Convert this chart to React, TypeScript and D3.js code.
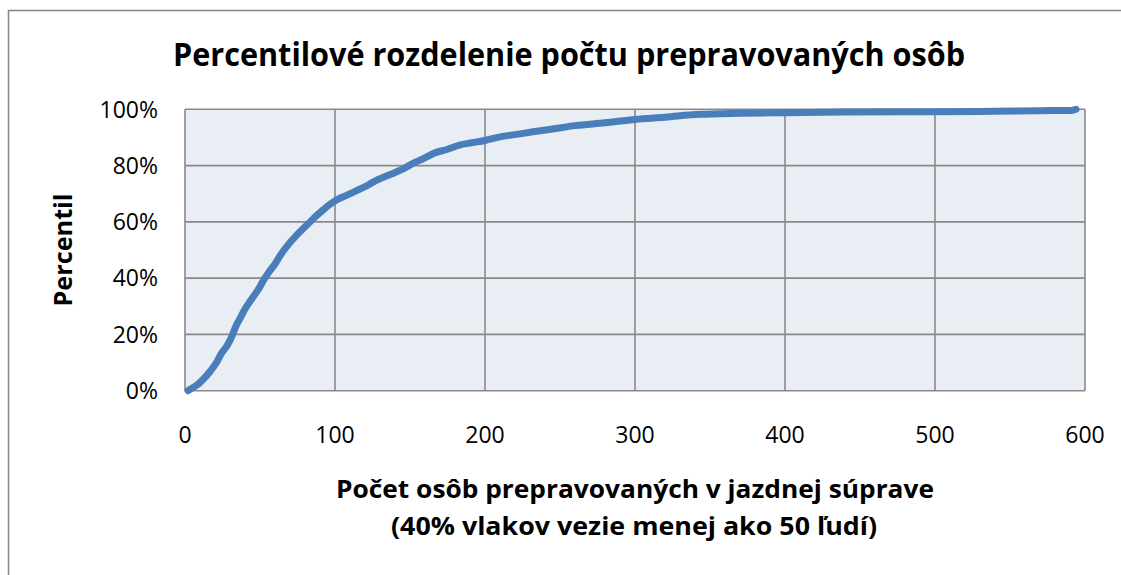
import React from "react";
import * as d3 from "d3";

const xValues = [2, 5, 8, 12, 17, 21, 24, 28, 31, 34, 37, 40, 43, 47, 50, 53, 56, 60, 64, 69, 74, 79, 84, 88, 92, 96, 101, 108, 114, 120, 126, 133, 139, 146, 152, 159, 166, 175, 183, 191, 200, 210, 220, 232, 245, 260, 280, 300, 320, 343, 370, 400, 440, 481, 500, 540, 570, 591, 594];
const yValues = [0, 1, 2, 4, 7, 10, 13, 16, 19, 23, 26, 29, 31.5, 34.5, 37, 39.8, 42.2, 45, 48.5, 52, 55, 57.7, 60.3, 62.4, 64.2, 66, 67.8, 69.5, 71, 72.5, 74.3, 76, 77.3, 79, 80.8, 82.5, 84.4, 85.8, 87.3, 88.1, 88.9, 90.2, 91, 92, 93, 94.2, 95.2, 96.4, 97.2, 98.2, 98.6, 98.8, 99, 99.1, 99.1, 99.3, 99.5, 99.6, 100];
const xTicks = [0, 100, 200, 300, 400, 500, 600];
const yTicks = [0, 20, 40, 60, 80, 100];

const title = "Percentilové rozdelenie počtu prepravovaných osôb";
const xTitle1 = "Počet osôb prepravovaných v jazdnej súprave";
const xTitle2 = "(40% vlakov vezie menej ako 50 ľudí)";
const yTitle = "Percentil";

export default function App() {
  const W = 1121, H = 575;
  const x = d3.scaleLinear().domain([0, 600]).range([185, 1085]);
  const y = d3.scaleLinear().domain([0, 100]).range([390.7, 109.3]);
  const pts = xValues.map((v, i) => [v, yValues[i]] as [number, number]);
  const line = d3.line<[number, number]>().x(d => x(d[0])).y(d => y(d[1])).curve(d3.curveMonotoneX);
  const font = "'Open Sans', sans-serif";
  const grid = "#898989";
  return (
    <svg width={W} height={H} style={{ position: "absolute", left: 0, top: 0 }}>
      <rect x={0} y={0} width={W} height={H} fill="#fff" />
      <rect x={8.5} y={10.5} width={W + 20} height={H + 20} fill="#fff" stroke="#868686" strokeWidth={1.5} />
      <text x={569} y={66} textAnchor="middle" fontFamily={font} fontWeight="bold" fontSize={31.5}
        textLength={792} lengthAdjust="spacingAndGlyphs" fill="#000">{title}</text>
      <rect x={x(0)} y={y(100)} width={x(600) - x(0)} height={y(0) - y(100)} fill="#e9edf4" />
      {xTicks.map(t => (
        <line key={"gx" + t} x1={x(t)} x2={x(t)} y1={y(0)} y2={y(100)} stroke={grid} strokeWidth={1.6} />
      ))}
      {yTicks.map(t => (
        <line key={"gy" + t} x1={x(0)} x2={x(600)} y1={y(t)} y2={y(t)} stroke={grid} strokeWidth={1.6} />
      ))}
      <path d={line(pts) || ""} fill="none" stroke="#4a7ebb" strokeWidth={7} strokeLinejoin="round" strokeLinecap="round" />
      {yTicks.map(t => (
        <text key={"ty" + t} x={158} y={y(t)} dy="0.36em" textAnchor="end" fontFamily={font} fontSize={23} fill="#000">{t + "%"}</text>
      ))}
      {xTicks.map(t => (
        <text key={"tx" + t} x={x(t)} y={443} textAnchor="middle" fontFamily={font} fontSize={23} fill="#000">{t}</text>
      ))}
      <text x={635} y={498} textAnchor="middle" fontFamily={font} fontWeight="bold" fontSize={25.5}
        textLength={598} lengthAdjust="spacingAndGlyphs" fill="#000">{xTitle1}</text>
      <text x={634} y={535} textAnchor="middle" fontFamily={font} fontWeight="bold" fontSize={25.5}
        textLength={486} lengthAdjust="spacingAndGlyphs" fill="#000">{xTitle2}</text>
      <text transform={`translate(71.5,250) rotate(-90)`} textAnchor="middle" fontFamily={font} fontWeight="bold" fontSize={25.5}
        textLength={113} lengthAdjust="spacingAndGlyphs" fill="#000">{yTitle}</text>
    </svg>
  );
}
